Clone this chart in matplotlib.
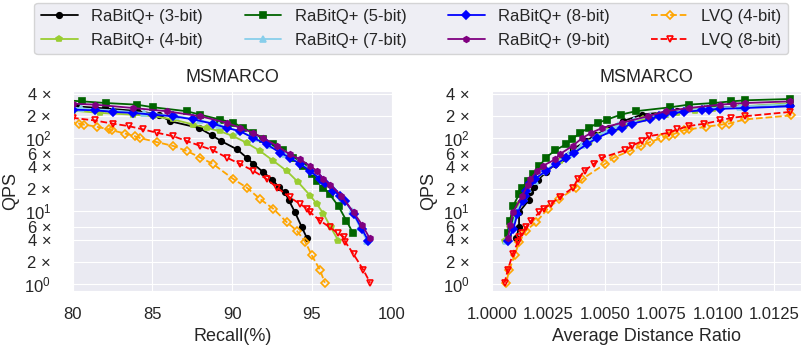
import matplotlib
matplotlib.use('Agg')
import matplotlib.pyplot as plt
import seaborn as sns

sns.set_style('darkgrid')
plt.rcParams['font.family'] = ['Liberation Sans', 'DejaVu Sans']
plt.rcParams['mathtext.fontset'] = 'custom'
plt.rcParams['mathtext.rm'] = 'Liberation Sans'

# RaBitQ+ 3-bit
qps_3 = [287, 272, 255, 235, 210, 170, 138, 110, 91, 70, 54, 44, 34, 27, 21.5, 18, 14, 9.6, 6.0, 4.3]
rec_3 = [79.5, 80.2, 82.0, 84.0, 85.4, 86.1, 87.9, 88.7, 89.3, 90.3, 90.9, 91.33, 91.95, 92.5, 92.9, 93.3, 93.55, 93.93, 94.36, 94.67]
rat_3 = [1.0132, 1.0112, 1.0095, 1.0082, 1.00665, 1.0058, 1.00519, 1.0046, 1.00416, 1.0036, 1.0031, 1.0028,
         1.0024, 1.00205, 1.00185, 1.0017, 1.00162, 1.0012, 1.0012, 1.00108]

# RaBitQ+ 4-bit
qps_4 = [300, 270, 250, 238, 221, 209, 199, 180, 153, 138, 124, 106, 86, 66.5, 48.6, 35.5, 24.7, 16.3, 12.5, 9.2, 6.0, 3.9]
rec_4 = [77.8, 78.8, 79.5, 80.0, 81.7, 83.8, 85.06, 86.3, 87.57, 88.4, 89.24, 90.07, 90.9, 91.74, 92.58, 93.41,
         94.14, 94.88, 95.3, 95.71, 96.17, 96.65]
rat_4 = [1.0132, 1.0110, 1.0098, 1.0090, 1.0082, 1.0077, 1.0073, 1.0067, 1.0059, 1.0055, 1.0051, 1.0047, 1.0043,
         1.0037, 1.0030, 1.0024, 1.0018, 1.00145, 1.0012, 1.0010, 1.0008, 1.00056]

# RaBitQ+ 5-bit
qps_5 = [343, 329, 318, 302, 287, 264, 233, 209, 179, 162, 138, 118, 96, 82, 68, 54, 41.5, 32, 26, 21, 17, 11.6, 7.4, 5.05]
rec_5 = [78.5, 79.6, 80.6, 82.1, 84.0, 85.06, 87.15, 88.0, 89.24, 90.07, 90.7, 91.33, 91.95, 92.58, 93.2, 93.83,
         94.46, 95.0, 95.34, 95.71, 96.1, 96.66, 97.15, 97.55]
rat_5 = [1.0132, 1.01121, 1.0106, 1.0098, 1.00871, 1.0079, 1.00636, 1.0057, 1.0051, 1.0047, 1.0043, 1.0039,
         1.00355, 1.00328, 1.0028, 1.0024, 1.0021, 1.0018, 1.0016, 1.00134, 1.0012, 1.00093, 1.0008, 1.0007]

# RaBitQ+ 7-bit
qps_7 = [290, 270, 255, 240, 220, 200, 175, 150, 125, 100, 80, 60, 45, 35, 26, 20, 15, 10, 6, 3.9]
rec_7 = [78.5, 79.5, 80.5, 82.5, 84.5, 86.5, 88.0, 89.2, 90.4, 91.4, 92.3, 93.3, 94.3, 95.0, 95.7, 96.3, 96.9,
         97.5, 98.0, 98.45]
rat_7 = [1.0132, 1.0110, 1.0095, 1.0085, 1.0077, 1.0070, 1.0063, 1.0056, 1.0050, 1.0045, 1.0040, 1.0034, 1.0028,
         1.0023, 1.0019, 1.0016, 1.0014, 1.0011, 1.0009, 1.00063]

# RaBitQ+ 8-bit
qps_8 = [272, 258, 251, 245, 240, 228, 221, 209, 199, 180, 157, 138, 124, 100, 82, 63, 54, 44, 35.5, 27.4, 23.9,
         19, 16.3, 13.9, 9.2, 5.7, 3.9]
rec_8 = [78.3, 79.2, 79.6, 80.0, 81.4, 82.55, 83.8, 85.06, 86.3, 87.57, 88.8, 89.65, 90.5, 91.33, 92.16, 93.0,
         93.6, 94.25, 94.88, 95.5, 95.78, 96.34, 96.76, 97.07, 97.6, 98.12, 98.53]
rat_8 = [1.0132, 1.01121, 1.01011, 1.0096, 1.0093, 1.0085, 1.0080, 1.0076, 1.00739, 1.0070, 1.0062, 1.00577,
         1.0053, 1.00465, 1.0042, 1.00365, 1.0033, 1.00284, 1.0024, 1.0019, 1.0017, 1.00153, 1.00145, 1.00137,
         1.00113, 1.00095, 1.000705]

# RaBitQ+ 9-bit
qps_9 = [318, 302, 296, 287, 258, 233, 199, 162, 138, 118, 100, 78, 60, 51, 41.5, 35.5, 27.4, 23, 16.3, 9.6, 6.35, 4.27]
rec_9 = [78.6, 79.6, 80.0, 81.4, 83.8, 85.9, 88.0, 89.65, 90.5, 91.3, 91.95, 92.8, 93.6, 94.25, 94.88, 95.3,
         95.7, 96.13, 96.82, 97.6, 98.16, 98.6]
rat_9 = [1.0132, 1.01121, 1.0107, 1.01011, 1.00871, 1.0077, 1.0069, 1.00577, 1.00489, 1.0044, 1.0040, 1.00357,
         1.0030, 1.0028, 1.00225, 1.0020, 1.0017, 1.00159, 1.00135, 1.000925, 1.00082, 1.000705]

# LVQ 4-bit
qps_l4 = [204, 180, 158, 153, 143, 131, 128, 115, 106, 100, 88, 78, 66.5, 54, 44, 27.4, 21, 14.6, 10.7, 7.05,
          5.4, 3.8, 2.48, 1.55, 1.04]
rec_l4 = [78.0, 79.2, 80.4, 80.7, 81.5, 82.3, 82.45, 83.3, 83.9, 84.22, 85.27, 86.3, 87.15, 88.0, 88.8, 90.07,
          90.9, 91.74, 92.58, 93.41, 94.04, 94.57, 94.98, 95.5, 95.8]
rat_l4 = [1.01326, 1.01121, 1.0105, 1.01018, 1.0095, 1.00871, 1.0085, 1.0081, 1.00783, 1.0075, 1.0070, 1.0066,
          1.0061, 1.0054, 1.0050, 1.0040, 1.00372, 1.00298, 1.00247, 1.00196, 1.00151, 1.00122, 1.0010, 1.00077,
          1.00063]

# LVQ 8-bit
qps_l8 = [228, 199, 189, 174, 157, 146, 131, 118, 106, 91, 78, 68, 54, 44, 35.5, 27.4, 21, 15.4, 12.5, 10.7,
          9.6, 7.4, 6.0, 5.0, 4.4, 3.8, 2.56, 1.55, 1.04]
rec_l8 = [78.2, 79.4, 80.0, 81.4, 82.55, 83.5, 84.43, 85.3, 86.3, 87.15, 88.0, 88.8, 89.65, 90.5, 91.33, 92.16,
          92.8, 93.6, 94.25, 94.7, 94.88, 95.5, 96.1, 96.6, 97.0, 97.07, 97.6, 98.22, 98.64]
rat_l8 = [1.0132, 1.01121, 1.0106, 1.01011, 1.0094, 1.00871, 1.0082, 1.00783, 1.00695, 1.00665, 1.0062, 1.0059,
          1.00489, 1.0045, 1.0041, 1.0038, 1.0036, 1.0030, 1.0026, 1.0023, 1.0021, 1.00174, 1.0015, 1.00135,
          1.00122, 1.00115, 1.00092, 1.0007, 1.00056]

series = [
    ('RaBitQ+ (3-bit)', rec_3, rat_3, qps_3, 'black', 'o', '-', True),
    ('RaBitQ+ (4-bit)', rec_4, rat_4, qps_4, 'yellowgreen', 'p', '-', True),
    ('RaBitQ+ (5-bit)', rec_5, rat_5, qps_5, 'darkgreen', 's', '-', True),
    ('RaBitQ+ (7-bit)', rec_7, rat_7, qps_7, 'skyblue', '^', '-', True),
    ('RaBitQ+ (8-bit)', rec_8, rat_8, qps_8, 'blue', 'D', '-', True),
    ('RaBitQ+ (9-bit)', rec_9, rat_9, qps_9, 'purple', 'h', '-', True),
    ('LVQ (4-bit)', rec_l4, rat_l4, qps_l4, 'orange', 'D', '--', False),
    ('LVQ (8-bit)', rec_l8, rat_l8, qps_l8, 'red', 'v', '--', False),
]

yticks = [1, 2, 4, 6, 10, 20, 40, 60, 100, 200, 400]
ylabels = [r'$\mathregular{10^{0}}$', '2 ×', '4 ×', '6 ×', r'$\mathregular{10^{1}}$', '2 ×', '4 ×', '6 ×',
           r'$\mathregular{10^{2}}$', '2 ×', '4 ×']

fig = plt.figure(figsize=(8.02, 3.49), dpi=100)
ax1 = fig.add_axes([0.0906, 0.166, 0.398, 0.574])
ax2 = fig.add_axes([0.612, 0.166, 0.387, 0.574])

handles = []
for name, rec, rat, qps, color, marker, ls, filled in series:
    mfc = color if filled else 'none'
    h, = ax1.plot(rec, qps, color=color, marker=marker, ls=ls, lw=1.3, ms=4, mfc=mfc, mew=1.2, label=name)
    ax2.plot(rat, qps, color=color, marker=marker, ls=ls, lw=1.3, ms=4, mfc=mfc, mew=1.2)
    handles.append(h)

for ax in (ax1, ax2):
    ax.set_yscale('log')
    ax.set_ylim(0.8, 445)
    ax.set_yticks(yticks)
    ax.set_yticklabels(ylabels)
    ax.minorticks_off()
    ax.tick_params(axis='y', labelsize=12, pad=12)
    ax.tick_params(axis='x', labelsize=12, pad=8)
    ax.set_ylabel('QPS', fontsize=13, labelpad=4)
    ax.set_title('MSMARCO', fontsize=13)

ax1.set_xlim(80, 100)
ax1.set_xticks([80, 85, 90, 95, 100])
ax1.set_xlabel('Recall(%)', fontsize=13)

ax2.set_xlim(0.99995, 1.0137)
ax2.set_xticks([1.0, 1.0025, 1.005, 1.0075, 1.01, 1.0125])
ax2.set_xticklabels(['1.0000', '1.0025', '1.0050', '1.0075', '1.0100', '1.0125'])
ax2.set_xlabel('Average Distance Ratio', fontsize=13)

fig.legend(handles=handles, loc='upper center', bbox_to_anchor=(0.513, 1.0), ncol=4, fontsize=12,
           frameon=True, columnspacing=2.5, handlelength=2.2, borderaxespad=0.15)

fig.savefig('out.png', dpi=100)
